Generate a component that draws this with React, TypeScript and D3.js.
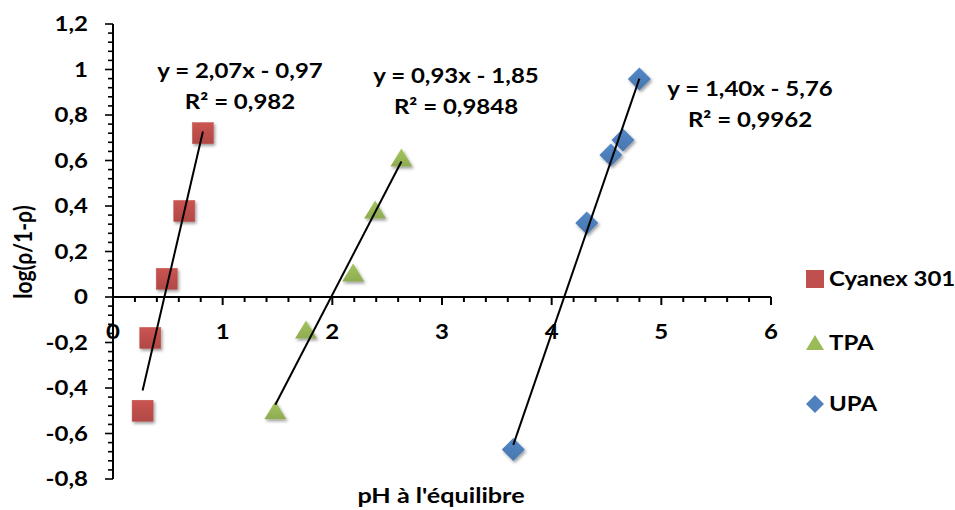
import React from "react";
import * as d3 from "d3";

const W = 955;
const H = 510;

const seriesNames = ["Cyanex 301", "TPA", "UPA"];
const seriesColors = ["#C0504D", "#9BBB59", "#4F81BD"];
const cyanexX = [0.27, 0.34, 0.49, 0.65, 0.82];
const cyanexY = [-0.5, -0.18, 0.08, 0.378, 0.72];
const tpaX = [1.48, 1.76, 2.19, 2.39, 2.63];
const tpaY = [-0.5, -0.145, 0.105, 0.382, 0.611];
const upaX = [3.65, 4.32, 4.54, 4.65, 4.8];
const upaY = [-0.67, 0.325, 0.624, 0.69, 0.958];
const slopes = [2.07, 0.93, 1.4];
const intercepts = [-0.97, -1.85, -5.76];
const eqLabels = ["y = 2,07x - 0,97", "y = 0,93x - 1,85", "y = 1,40x - 5,76"];
const r2Labels = ["R² = 0,982", "R² = 0,9848", "R² = 0,9962"];
const xTicks = [0, 1, 2, 3, 4, 5, 6];
const yTicks = [-0.8, -0.6, -0.4, -0.2, 0, 0.2, 0.4, 0.6, 0.8, 1, 1.2];
const xTitle = "pH à l'équilibre";
const yTitle = "log(ρ/1-ρ)";

const FONT = "Lato, 'Open Sans', sans-serif";
const SX = 1.2;

const fmt = (v: number) => {
  const s = d3.format("~g")(Math.round(v * 100) / 100);
  return s.replace(".", ",").replace("−", "-");
};

function T({ x, y, size, anchor, children, rotate }: { x: number; y: number; size: number; anchor?: string; children: any; rotate?: number }) {
  return (
    <text
      transform={`translate(${x},${y}) scale(${SX},1)${rotate ? ` rotate(${rotate})` : ""}`}
      textAnchor={anchor || "start"}
      fontSize={size}
      fontWeight={700}
      fill="#000"
    >
      {children}
    </text>
  );
}

function Marker({ kind, x, y, color }: { kind: number; x: number; y: number; color: string }) {
  const fill = `url(#grad${kind})`;
  if (kind === 0) {
    return <rect x={x - 10.5} y={y - 10.5} width={21} height={21} fill={fill} stroke={color} strokeWidth={0.5} filter="url(#shadow)" />;
  }
  if (kind === 1) {
    const p = `M${x},${y - 9.5} L${x + 11},${y + 8.5} L${x - 11},${y + 8.5} Z`;
    return <path d={p} fill={fill} filter="url(#shadow)" />;
  }
  const p = `M${x},${y - 11.5} L${x + 11.5},${y} L${x},${y + 11.5} L${x - 11.5},${y} Z`;
  return <path d={p} fill={fill} filter="url(#shadow)" />;
}

function LegendMarker({ kind, x, y, color }: { kind: number; x: number; y: number; color: string }) {
  if (kind === 0) return <rect x={x - 9} y={y - 9} width={18} height={18} fill={color} />;
  if (kind === 1) return <path d={`M${x},${y - 8} L${x + 9},${y + 7} L${x - 9},${y + 7} Z`} fill={color} />;
  return <path d={`M${x},${y - 9} L${x + 9},${y} L${x},${y + 9} L${x - 9},${y} Z`} fill={color} />;
}

export default function App() {
  const x = d3.scaleLinear().domain([0, 6]).range([113, 771]);
  const y = d3.scaleLinear().domain([-0.8, 1.2]).range([479, 24]);
  const xs = [cyanexX, tpaX, upaX];
  const ys = [cyanexY, tpaY, upaY];
  const xMinor = d3.range(0, 6.0001, 0.2);
  const yMinor = d3.range(-0.8, 1.2001, 0.04);
  const eqPos = [
    { cx: 240, y1: 78, y2: 109 },
    { cx: 456, y1: 83, y2: 114 },
    { cx: 750, y1: 96, y2: 127 },
  ];
  const legendY = [279, 343, 404];

  return (
    <svg width={W} height={H} style={{ position: "absolute", left: 0, top: 0, background: "#fff" }} fontFamily={FONT}>
      <defs>
        <filter id="shadow" x="-50%" y="-50%" width="200%" height="200%">
          <feDropShadow dx={1.5} dy={2} stdDeviation={1.6} floodColor="#000" floodOpacity={0.38} />
        </filter>
        {seriesColors.map((c, i) => (
          <linearGradient key={i} id={`grad${i}`} x1="0" y1="0" x2="0" y2="1">
            <stop offset="0%" stopColor={d3.color(c)!.brighter(0.15).toString()} />
            <stop offset="100%" stopColor={d3.color(c)!.darker(0.25).toString()} />
          </linearGradient>
        ))}
      </defs>

      {/* axes */}
      <line x1={x(0)} x2={x(6)} y1={y(0)} y2={y(0)} stroke="#000" strokeWidth={2} />
      <line x1={x(0)} x2={x(0)} y1={y(-0.8)} y2={y(1.2)} stroke="#000" strokeWidth={2} />
      {xMinor.map((v, i) => {
        const major = Math.abs(v - Math.round(v)) < 1e-6;
        return <line key={"xm" + i} x1={x(v)} x2={x(v)} y1={y(0)} y2={y(0) + (major ? 8 : 5)} stroke="#000" strokeWidth={2} />;
      })}
      {yMinor.map((v, i) => {
        const major = Math.abs(v * 5 - Math.round(v * 5)) < 1e-6;
        return <line key={"ym" + i} x1={x(0) - (major ? 8 : 5)} x2={x(0)} y1={y(v)} y2={y(v)} stroke="#000" strokeWidth={1.6} />;
      })}
      {xTicks.map((v) => (
        <T key={"xt" + v} x={x(v)} y={339} size={20} anchor="middle">
          {fmt(v)}
        </T>
      ))}
      {yTicks.map((v) => (
        <T key={"yt" + v} x={88} y={y(v) + 7} size={20} anchor="end">
          {fmt(v)}
        </T>
      ))}
      <T x={441} y={503} size={21} anchor="middle">
        {xTitle}
      </T>
      <T x={32} y={252} size={21} anchor="middle" rotate={-90}>
        {yTitle}
      </T>

      {/* markers */}
      {xs.map((arr, s) =>
        arr.map((xv, i) => <Marker key={s + "-" + i} kind={s} x={x(xv)} y={y(ys[s][i])} color={seriesColors[s]} />)
      )}

      {/* trendlines */}
      {xs.map((arr, s) => {
        const [a, b] = d3.extent(arr) as [number, number];
        return (
          <line
            key={"tl" + s}
            x1={x(a)}
            y1={y(slopes[s] * a + intercepts[s])}
            x2={x(b)}
            y2={y(slopes[s] * b + intercepts[s])}
            stroke="#000"
            strokeWidth={2}
          />
        );
      })}

      {/* equations */}
      {eqPos.map((p, s) => (
        <g key={"eq" + s}>
          <T x={p.cx} y={p.y1} size={20} anchor="middle">{eqLabels[s]}</T>
          <T x={p.cx} y={p.y2} size={20} anchor="middle">{r2Labels[s]}</T>
        </g>
      ))}

      {/* legend */}
      {seriesNames.map((n, s) => (
        <g key={"lg" + s}>
          <LegendMarker kind={s} x={815} y={legendY[s]} color={seriesColors[s]} />
          <T x={829} y={legendY[s] + 7} size={20}>
            {n}
          </T>
        </g>
      ))}
    </svg>
  );
}
